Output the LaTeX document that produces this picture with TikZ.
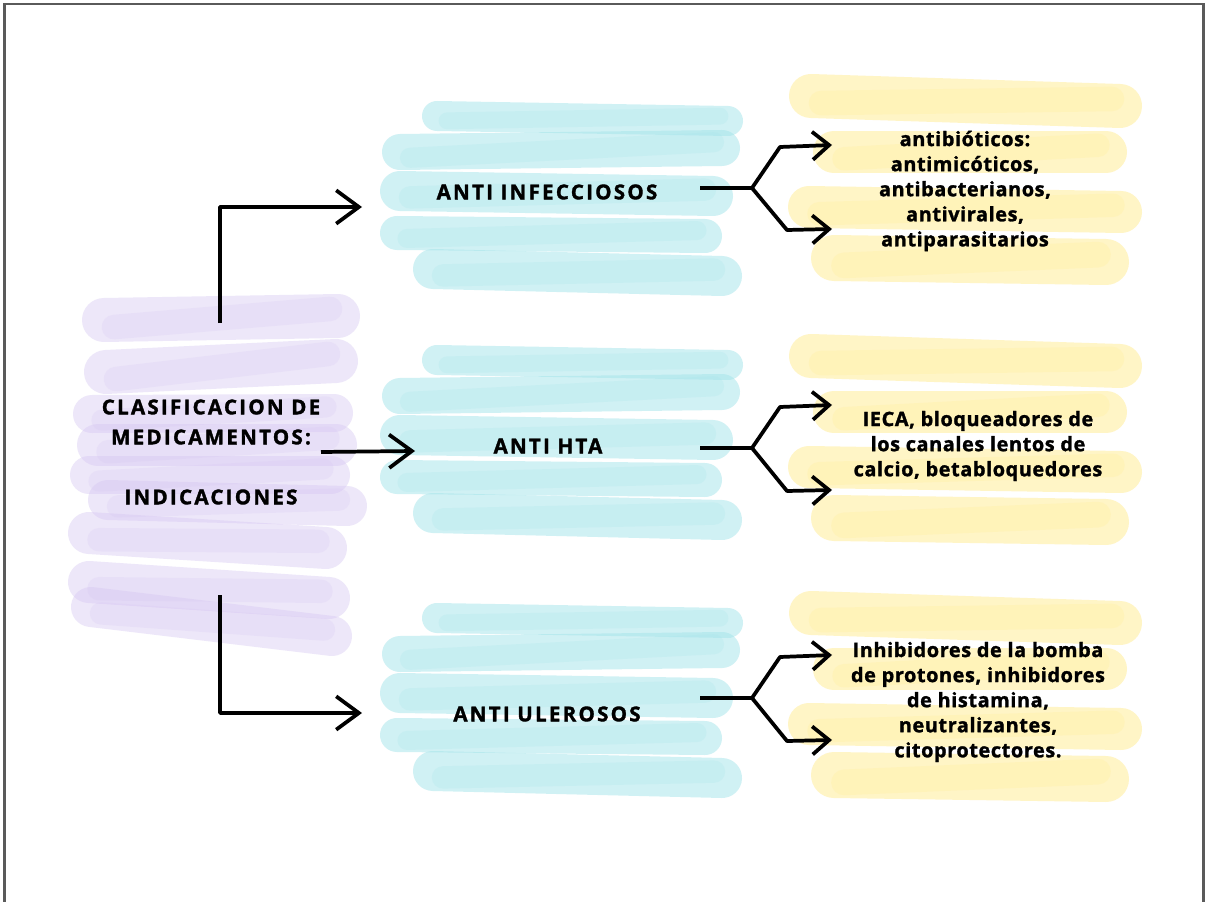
\documentclass[tikz,border=0pt]{standalone}
\usepackage{fontspec}
\setmainfont{Open Sans}
\newfontfamily\capsf[LetterSpace=11, BoldFeatures={FakeBold=1.6}]{Open Sans}
\newfontfamily\lowf[LetterSpace=3, BoldFeatures={FakeBold=1.4}]{Open Sans}
\usetikzlibrary{arrows.meta}
\definecolor{cyanB}{HTML}{A3E4EA}
\definecolor{purpB}{HTML}{D6C6F2}
\definecolor{yellB}{HTML}{FFEC8F}
\definecolor{frameC}{HTML}{5A5A5A}
\tikzset{
  cyb/.style={draw=cyanB, line cap=round, draw opacity=0.5},
  pub/.style={draw=purpB, line cap=round, draw opacity=0.42},
  yeb/.style={draw=yellB, line cap=round, draw opacity=0.5},
  conn/.style={draw=black, line width=2.8pt, line join=round},
  bigarrow/.style={conn, -{Straight Barb[length=17pt,width=25pt,line width=2.8pt]}},
  smallarrow/.style={conn, -{Straight Barb[length=12.5pt,width=21pt,line width=2.8pt]}},
  captext/.style={font=\capsf\bfseries\fontsize{15.4pt}{22.5pt}\selectfont, text=black, align=center, inner sep=0pt},
  lowtext/.style={font=\lowf\bfseries\fontsize{14.9pt}{18.8pt}\selectfont, text=black, align=center, inner sep=0pt}
}
\newcommand\brush[6]{%
  \draw[#1, line width=#6*0.75pt] (#2,#3) -- (#4,#5);
  \draw[#1, draw opacity=0.22, line width=#6*0.42pt] (#2+10,#3+#6*0.16) -- (#4-8,#5-#6*0.16);}
\begin{document}
\begin{tikzpicture}[x=0.75pt,y=-0.75pt]
\useasboundingbox (0,0) rectangle (1206,902);
\fill[white] (0,0) rectangle (1206,902);
% frame
\draw[frameC, line width=2pt] (4.5,902) -- (4.5,4) -- (1203.5,4) -- (1203.5,902);

% purple brush strokes
\brush{pub}{104}{320}{338}{316}{44}
\brush{pub}{106}{372}{336}{361}{44}
\brush{pub}{92}{414}{334}{413}{38}
\brush{pub}{98}{445}{336}{445}{42}
\brush{pub}{89}{475}{331}{475}{38}
\brush{pub}{108}{500}{347}{506}{40}
\brush{pub}{89}{533}{326}{548}{42}
\brush{pub}{89}{582}{329}{598}{42}
\brush{pub}{91}{607}{332}{636}{40}

% cyan brush strokes (three groups)
\foreach \dy in {0,244,502}{
  \brush{cyb}{437}{\dy+116}{728}{\dy+121}{30}
  \brush{cyb}{400}{\dy+152}{722}{\dy+148}{36}
  \brush{cyb}{400}{\dy+191}{713}{\dy+196}{40}
  \brush{cyb}{397}{\dy+233}{705}{\dy+236}{34}
  \brush{cyb}{433}{\dy+269}{722}{\dy+276}{40}
}

% yellow brush strokes (three groups)
\foreach \dy in {0,260,517}{
  \brush{yeb}{811}{\dy+96}{1120}{\dy+106}{44}
  \brush{yeb}{834}{\dy+152}{1106}{\dy+152}{42}
  \brush{yeb}{809}{\dy+207}{1121}{\dy+212}{42}
  \brush{yeb}{834}{\dy+258}{1106}{\dy+262}{46}
}

% text nodes
\node[captext] (root) at (211,452) {CLASIFICACION DE\\MEDICAMENTOS:\\[22.5pt]INDICACIONES};
\node[captext] (inf) at (547,192) {ANTI INFECCIOSOS};
\node[captext] (hta) at (548,446) {ANTI HTA};
\node[captext] (ulc) at (547,714) {ANTI ULEROSOS};
\node[lowtext] (yinf) at (965,191) {antibióticos:\\antimicóticos,\\antibacterianos,\\antivirales,\\antiparasitarios};
\node[lowtext] (yhta) at (978,446) {IECA, bloqueadores de\\los canales lentos de\\calcio, betabloquedores};
\node[lowtext] (yulc) at (978,702) {Inhibidores de la bomba\\de protones, inhibidores\\de histamina,\\neutralizantes,\\citoprotectores.};

% left connectors
\coordinate (rtop) at (220,323);
\coordinate (rmid) at (321,452);
\coordinate (rbot) at (220,595);
\coordinate (infin) at (362,207);
\coordinate (htain) at (415,451);
\coordinate (ulcin) at (362,713);
\draw[bigarrow] (rtop) |- (infin);
\draw[bigarrow] (rmid) -- (htain);
\draw[bigarrow] (rbot) |- (ulcin);

% right branching connectors
\foreach \g/\y/\u/\l in {inf/188/145/229, hta/448/405/490, ulc/698/655/740}{
  \coordinate (\g out) at (700,\y);
  \coordinate (\g j) at (752,\y);
  \coordinate (\g up) at (832,\u);
  \coordinate (\g lo) at (832,\l);
  \draw[smallarrow] (\g out) -- (\g j) -- (780,\u+2) -- (\g up);
  \draw[smallarrow] (\g j) -- (787,\l+1) -- (\g lo);
}
\end{tikzpicture}
\end{document}
